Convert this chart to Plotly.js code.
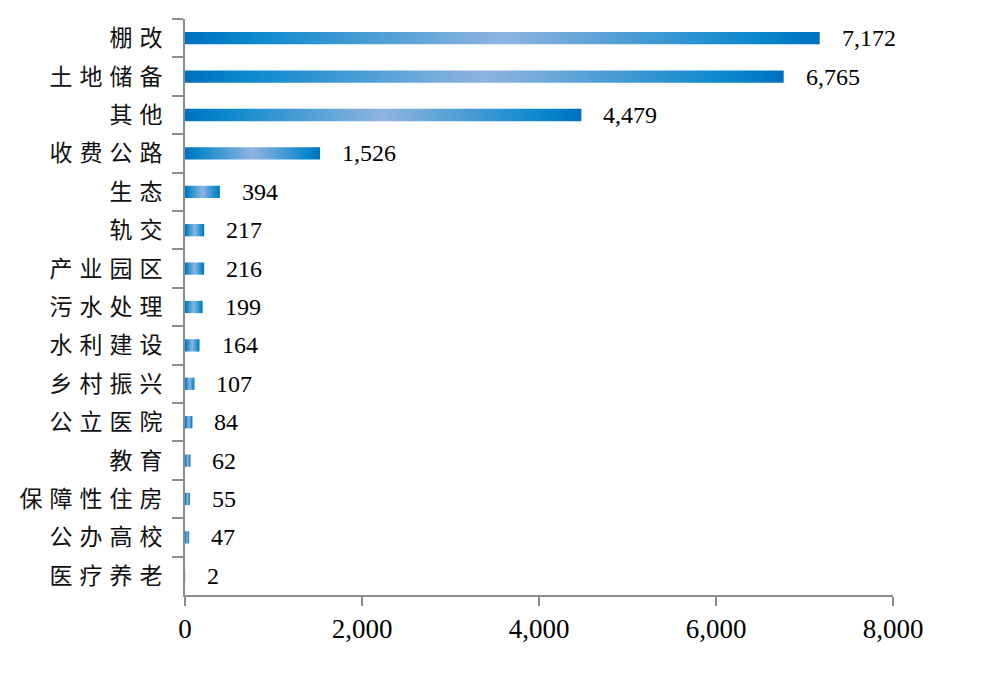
<!DOCTYPE html>
<html>
<head>
<meta charset="utf-8">
<script src="https://cdn.plot.ly/plotly-3.0.1.min.js"></script>
<style>
  html, body { margin: 0; padding: 0; background: #fff; }
  #chart { width: 988px; height: 674px; }
  .yaxislayer-above .ytick text { letter-spacing: 7px; }
</style>
</head>
<body>
<div id="chart"></div>
<script>
const categories = ["棚改", "土地储备", "其他", "收费公路", "生态", "轨交", "产业园区", "污水处理", "水利建设", "乡村振兴", "公立医院", "教育", "保障性住房", "公办高校", "医疗养老"];
const values = [7172, 6765, 4479, 1526, 394, 217, 216, 199, 164, 107, 84, 62, 55, 47, 2];
const xTicks = [0, 2000, 4000, 6000, 8000];

const serif = "'Liberation Serif', 'Times New Roman', 'Noto Sans CJK SC', serif";

const trace = {
  type: 'bar',
  orientation: 'h',
  x: values,
  y: categories,
  width: 0.32,
  marker: { color: '#4a90d2', line: { width: 0 } },
  hoverinfo: 'none'
};

const annotations = values.map((v, i) => ({
  x: v,
  y: categories[i],
  xref: 'x',
  yref: 'y',
  text: v.toLocaleString('en-US'),
  showarrow: false,
  xanchor: 'left',
  yanchor: 'middle',
  xshift: 20,
  font: { family: serif, size: 24, color: '#000' }
}));

const layout = {
  width: 988,
  height: 674,
  margin: { l: 185, r: 95, t: 19, b: 79, pad: 0 },
  paper_bgcolor: '#fff',
  plot_bgcolor: '#fff',
  showlegend: false,
  xaxis: {
    range: [0, 8000],
    tickvals: xTicks,
    ticktext: xTicks.map(v => v.toLocaleString('en-US')),
    showgrid: false,
    zeroline: false,
    showline: true,
    linecolor: '#8c8c8c',
    linewidth: 2,
    ticks: 'outside',
    ticklen: 9,
    tickwidth: 2,
    tickcolor: '#8c8c8c',
    tickfont: { family: serif, size: 27, color: '#000' }
  },
  yaxis: {
    type: 'category',
    categoryorder: 'array',
    categoryarray: categories,
    range: [14.5, -0.5],
    tickson: 'boundaries',
    showgrid: false,
    zeroline: false,
    showline: true,
    linecolor: '#8c8c8c',
    linewidth: 2,
    ticks: 'outside',
    ticklen: 11,
    tickwidth: 2,
    tickcolor: '#8c8c8c',
    ticklabelstandoff: 9,
    tickfont: { family: "'Noto Sans CJK SC', sans-serif", size: 23, color: '#111' }
  },
  annotations: annotations
};

Plotly.newPlot('chart', [trace], layout, { displayModeBar: false, staticPlot: true }).then(gd => {
  const svgNS = 'http://www.w3.org/2000/svg';
  const svg = gd.querySelector('svg.main-svg');
  let defs = svg.querySelector('defs');
  if (!defs) { defs = document.createElementNS(svgNS, 'defs'); svg.insertBefore(defs, svg.firstChild); }
  const grad = document.createElementNS(svgNS, 'linearGradient');
  grad.setAttribute('id', 'barGrad');
  grad.setAttribute('x1', '0'); grad.setAttribute('y1', '0');
  grad.setAttribute('x2', '1'); grad.setAttribute('y2', '0');
  const stops = [[0, '#0070c0'], [0.1, '#0a88cc'], [0.5, '#8fb4df'], [0.9, '#0a88cc'], [1, '#0070c0']];
  stops.forEach(([o, c]) => {
    const s = document.createElementNS(svgNS, 'stop');
    s.setAttribute('offset', o);
    s.setAttribute('stop-color', c);
    grad.appendChild(s);
  });
  defs.appendChild(grad);
  gd.querySelectorAll('.bars .point path').forEach(p => { p.style.fill = 'url(#barGrad)'; });
});
</script>
</body>
</html>
